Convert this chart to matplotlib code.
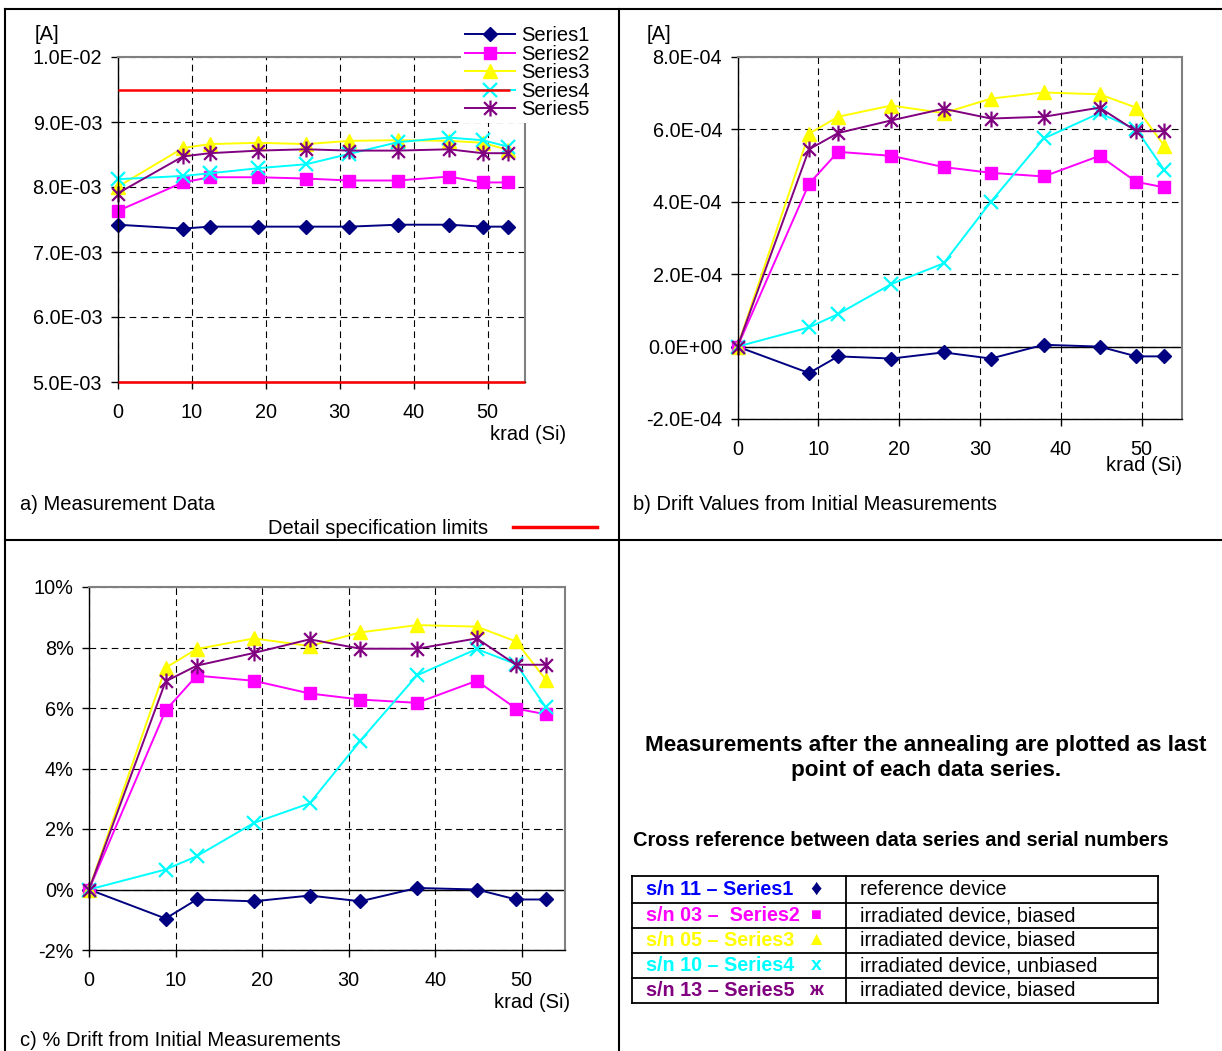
import matplotlib
matplotlib.use("Agg")
import matplotlib.pyplot as plt
from matplotlib.lines import Line2D
from matplotlib.path import Path
from matplotlib.ticker import FixedLocator, FuncFormatter

plt.rcParams['font.family'] = ['Liberation Sans', 'DejaVu Sans']
plt.rcParams['axes.unicode_minus'] = False

# dose steps, krad (Si); last point = after annealing
dose = [0, 8.85, 12.45, 19.05, 25.5, 31.35, 37.9, 44.8, 49.35, 52.8]

series_names = ['Series1', 'Series2', 'Series3', 'Series4', 'Series5']

# a) measured current, units of 1e-3 A
meas_s1 = [7.42, 7.36, 7.39, 7.39, 7.39, 7.39, 7.42, 7.42, 7.39, 7.39]
meas_s2 = [7.63, 8.07, 8.15, 8.15, 8.13, 8.10, 8.10, 8.16, 8.07, 8.07]
meas_s3 = [8.00, 8.60, 8.66, 8.68, 8.66, 8.71, 8.72, 8.71, 8.68, 8.57]
meas_s4 = [8.12, 8.17, 8.21, 8.29, 8.35, 8.51, 8.69, 8.76, 8.72, 8.62]
meas_s5 = [7.90, 8.47, 8.52, 8.56, 8.58, 8.56, 8.56, 8.58, 8.52, 8.52]
spec_limits = [9.5, 5.0]

# b) drift from initial, units of 1e-4 A
drift_s1 = [0, -0.73, -0.27, -0.33, -0.16, -0.33, 0.05, 0, -0.27, -0.27]
drift_s2 = [0, 4.50, 5.38, 5.27, 4.96, 4.80, 4.70, 5.27, 4.55, 4.40]
drift_s3 = [0, 5.88, 6.35, 6.66, 6.45, 6.85, 7.02, 6.97, 6.60, 5.55]
drift_s4 = [0, 0.53, 0.90, 1.73, 2.30, 4.00, 5.75, 6.45, 6.00, 4.88]
drift_s5 = [0, 5.45, 5.90, 6.25, 6.57, 6.30, 6.35, 6.60, 5.95, 5.95]

# c) drift in percent
pct_s1 = [0, -0.96, -0.33, -0.39, -0.20, -0.39, 0.05, 0, -0.33, -0.33]
pct_s2 = [0, 5.92, 7.07, 6.90, 6.48, 6.28, 6.17, 6.90, 5.98, 5.79]
pct_s3 = [0, 7.33, 7.95, 8.30, 8.05, 8.50, 8.74, 8.69, 8.20, 6.93]
pct_s4 = [0, 0.66, 1.10, 2.20, 2.85, 4.92, 7.08, 7.95, 7.45, 6.02]
pct_s5 = [0, 6.88, 7.40, 7.82, 8.27, 7.96, 7.96, 8.30, 7.43, 7.43]

# cross reference table
serials = ['s/n 11 \u2013 Series1', 's/n 03 \u2013  Series2', 's/n 05 \u2013 Series3',
           's/n 10 \u2013 Series4', 's/n 13 \u2013 Series5']
symbols = ['\u2666', '\u25a0', '\u25b2', 'x', '\u0436']
descriptions = ['reference device', 'irradiated device, biased', 'irradiated device, biased',
                'irradiated device, unbiased', 'irradiated device, biased']

W, H = 1222, 1051
FS = 14.3       # tick labels
FS_TXT = 14.5   # captions, legend

asterisk = Path([(-0.8, -0.8), (0.8, 0.8), (-0.8, 0.8), (0.8, -0.8), (0, -1), (0, 1)],
                [Path.MOVETO, Path.LINETO, Path.MOVETO, Path.LINETO, Path.MOVETO, Path.LINETO])

styles = [
    dict(color='#000080', marker='D', ms=7),
    dict(color='#FF00FF', marker='s', ms=8),
    dict(color='#FFFF00', marker='^', ms=9.5),
    dict(color='#00FFFF', marker='x', ms=9.5, mew=1.6),
    dict(color='#800080', marker=asterisk, ms=11.5, mew=1.6, mfc='none'),
]
text_colors = ['#0000FF', '#FF00FF', '#FFFF00', '#00FFFF', '#800080']
symbol_colors = ['#000080', '#FF00FF', '#FFFF00', '#00FFFF', '#800080']
symbol_sizes = [16, 13, 14, 14, 14]


def px_axes(fig, x0, y0, x1, y1):
    return fig.add_axes([x0 / W, 1 - y1 / H, (x1 - x0) / W, (y1 - y0) / H])


def fx(x):
    return x / W


def fy(y):
    return 1 - y / H


def style_axes(ax, yticks, fmt):
    ax.set_xlim(0, 55)
    ax.set_ylim(yticks[0], yticks[-1])
    ax.xaxis.set_major_locator(FixedLocator([0, 10, 20, 30, 40, 50]))
    ax.yaxis.set_major_locator(FixedLocator(yticks))
    ax.yaxis.set_major_formatter(FuncFormatter(fmt))
    ax.grid(True, color='black', linestyle=(0, (6, 4)), linewidth=0.8)
    ax.set_axisbelow(True)
    for s in ['left', 'bottom']:
        ax.spines[s].set_color('black')
        ax.spines[s].set_linewidth(1)
    for s in ['top', 'right']:
        ax.spines[s].set_color('#808080')
        ax.spines[s].set_linewidth(1.5)
    ax.tick_params(axis='both', direction='out', length=5, width=1, labelsize=FS)
    ax.tick_params(axis='y', pad=6)
    ax.tick_params(axis='x', pad=10)


def plot_series(ax, all_y):
    handles = []
    for y, st in zip(all_y, styles):
        h, = ax.plot(dose, y, lw=1.4, mec=st['color'], clip_on=False, **st)
        handles.append(h)
    return handles


fig = plt.figure(figsize=(W / 100, H / 100), dpi=100)

# panel a
ax_a = px_axes(fig, 117.5, 57, 524.5, 382)
style_axes(ax_a, [5.0, 6.0, 7.0, 8.0, 9.0, 10.0], lambda v, p: f"{v * 1e-3:.1E}")
ax_a.hlines(spec_limits[0], 0, 53.1, color='red', lw=1.8, zorder=6)
ax_a.hlines(spec_limits[1], 0, 55, color='red', lw=1.8, zorder=6, clip_on=False)
h = plot_series(ax_a, [meas_s1, meas_s2, meas_s3, meas_s4, meas_s5])
ax_a.legend(h, series_names, loc='upper left', bbox_to_anchor=(fx(461), fy(22)),
            bbox_transform=fig.transFigure, frameon=True, edgecolor='none',
            facecolor='white', framealpha=1, fancybox=False, borderpad=0.2,
            labelspacing=-0.02, handlelength=2.5, handletextpad=0.3, borderaxespad=0,
            numpoints=1, fontsize=FS_TXT)

# panel b
ax_b = px_axes(fig, 737.5, 57, 1182, 419)
style_axes(ax_b, [-2, 0, 2, 4, 6, 8], lambda v, p: f"{v * 1e-4:.1E}")
ax_b.axhline(0, color='black', lw=1)
plot_series(ax_b, [drift_s1, drift_s2, drift_s3, drift_s4, drift_s5])

# panel c
ax_c = px_axes(fig, 89, 587, 565, 950)
style_axes(ax_c, [-2, 0, 2, 4, 6, 8, 10], lambda v, p: f"{v:.0f}%")
ax_c.axhline(0, color='black', lw=1)
plot_series(ax_c, [pct_s1, pct_s2, pct_s3, pct_s4, pct_s5])

# axis labels and captions
fig.text(fx(35), fy(34), '[A]', fontsize=FS_TXT, va='center', ha='left')
fig.text(fx(647), fy(34), '[A]', fontsize=FS_TXT, va='center', ha='left')
fig.text(fx(528), fy(434), 'krad (Si)', fontsize=FS_TXT, va='center', ha='center')
fig.text(fx(1144), fy(466), 'krad (Si)', fontsize=FS_TXT, va='center', ha='center')
fig.text(fx(532), fy(1002), 'krad (Si)', fontsize=FS_TXT, va='center', ha='center')
fig.text(fx(20), fy(505), 'a) Measurement Data', fontsize=FS_TXT, va='center')
fig.text(fx(268), fy(528), 'Detail specification limits', fontsize=FS_TXT, va='center')
fig.add_artist(Line2D([fx(513), fx(597)], [fy(527), fy(527)], color='red', lw=2.5,
                      transform=fig.transFigure))
fig.text(fx(633), fy(505), 'b) Drift Values from Initial Measurements', fontsize=FS_TXT, va='center')
fig.text(fx(20), fy(1040), 'c) % Drift from Initial Measurements', fontsize=FS_TXT, va='center')

fig.text(fx(926), fy(758), 'Measurements after the annealing are plotted as last\npoint of each data series.',
         fontsize=16.2, fontweight='bold', ha='center', va='center', linespacing=1.25)
fig.text(fx(633), fy(841), 'Cross reference between data series and serial numbers',
         fontsize=14.4, fontweight='bold', va='center')

# outer frame of the page layout
frame = [((5, 9), (1222, 9)), ((5, 9), (5, 1051)), ((619, 9), (619, 1051)),
         ((5, 540), (1222, 540))]
for (x0, y0), (x1, y1) in frame:
    fig.add_artist(Line2D([fx(x0), fx(x1)], [fy(y0), fy(y1)], color='black', lw=1.5,
                          transform=fig.transFigure))

# cross reference table
row_edges = [876, 903, 928, 953, 978, 1003]
tx0, tx1, tmid = 632, 1158, 846
for y in row_edges:
    fig.add_artist(Line2D([fx(tx0), fx(tx1)], [fy(y), fy(y)], color='black', lw=1.3,
                          transform=fig.transFigure))
for x in [tx0, tmid, tx1]:
    fig.add_artist(Line2D([fx(x), fx(x)], [fy(row_edges[0]), fy(row_edges[-1])], color='black',
                          lw=1.3, transform=fig.transFigure))
for i in range(5):
    yc = (row_edges[i] + row_edges[i + 1]) / 2
    fig.text(fx(646), fy(yc), serials[i], fontsize=14.2, fontweight='bold',
             color=text_colors[i], va='center')
    fig.text(fx(816), fy(yc), symbols[i], fontsize=symbol_sizes[i], fontweight='bold',
             color=symbol_colors[i], va='center', ha='center')
    fig.text(fx(860), fy(yc), descriptions[i], fontsize=14.2, va='center')

fig.savefig('out.png', dpi=100, facecolor='white')
